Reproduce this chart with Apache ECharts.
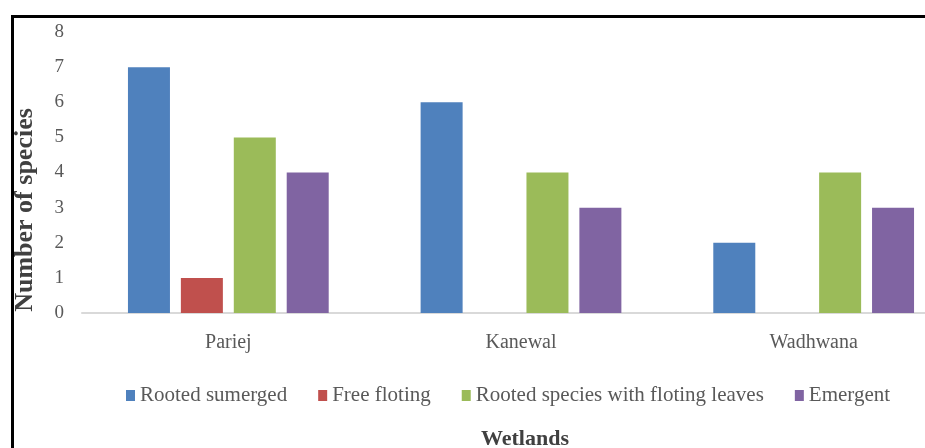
<!DOCTYPE html>
<html><head><meta charset="utf-8">
<script src="https://cdn.jsdelivr.net/npm/echarts@6/dist/echarts.min.js"></script>
<style>html,body{margin:0;padding:0;background:#fff}#c{width:925px;height:448px}</style>
</head><body><div id="c"></div>
<script>
const categories = ['Pariej', 'Kanewal', 'Wadhwana'];
const rootedSubmerged = [7, 6, 2];
const freeFloating = [1, 0, 0];
const rootedFloatingLeaves = [5, 4, 4];
const emergent = [4, 3, 3];
const seriesNames = ['Rooted sumerged', 'Free floting', 'Rooted species with floting leaves', 'Emergent'];
const yTicks = [0, 1, 2, 3, 4, 5, 6, 7, 8];
const xTitle = 'Wetlands';
const yTitle = 'Number of species';

const font = '"Liberation Serif", "Times New Roman", serif';
const chart = echarts.init(document.getElementById('c'));
const values = [rootedSubmerged, freeFloating, rootedFloatingLeaves, emergent];
const colors = ['#4F81BD', '#C0504D', '#9BBB59', '#8064A2'];
chart.setOption({
  animation: false,
  grid: { left: 82, width: 878, top: 32, height: 281, containLabel: false, outerBoundsMode: 'none' },
  legend: {
    data: seriesNames, left: 121, top: 380, icon: 'rect', itemWidth: 9, itemHeight: 11, itemGap: 31,
    textStyle: { fontFamily: font, fontSize: 21, color: '#595959' }
  },
  xAxis: {
    type: 'category', data: categories,
    axisLine: { lineStyle: { color: '#d9d9d9', width: 2 } },
    axisTick: { show: false },
    axisLabel: { fontFamily: font, fontSize: 20, color: '#595959', margin: 20 }
  },
  yAxis: {
    type: 'value', min: yTicks[0], max: yTicks[yTicks.length - 1], interval: 1,
    axisLine: { show: false }, axisTick: { show: false }, splitLine: { show: false },
    axisLabel: { fontFamily: font, fontSize: 19, color: '#595959', margin: 18 }
  },
  series: seriesNames.map((n, i) => ({
    name: n, type: 'bar', data: values[i], barWidth: 42, barGap: '26%',
    itemStyle: { color: colors[i] }
  })),
  graphic: [{
    type: 'rect', left: 10, top: 14, z: 100,
    shape: { width: 1000, height: 600 },
    style: { fill: 'none', stroke: '#000', lineWidth: 3 }
  }, {
    type: 'text', x: 25, y: 210, rotation: Math.PI / 2,
    style: { text: yTitle, font: 'bold 26px ' + font, fill: '#404040', align: 'center', verticalAlign: 'middle' }
  }, {
    type: 'text', x: 525, y: 428,
    style: { text: xTitle, font: 'bold 22px ' + font, fill: '#404040', align: 'center', verticalAlign: 'top' }
  }]
});
</script></body></html>
